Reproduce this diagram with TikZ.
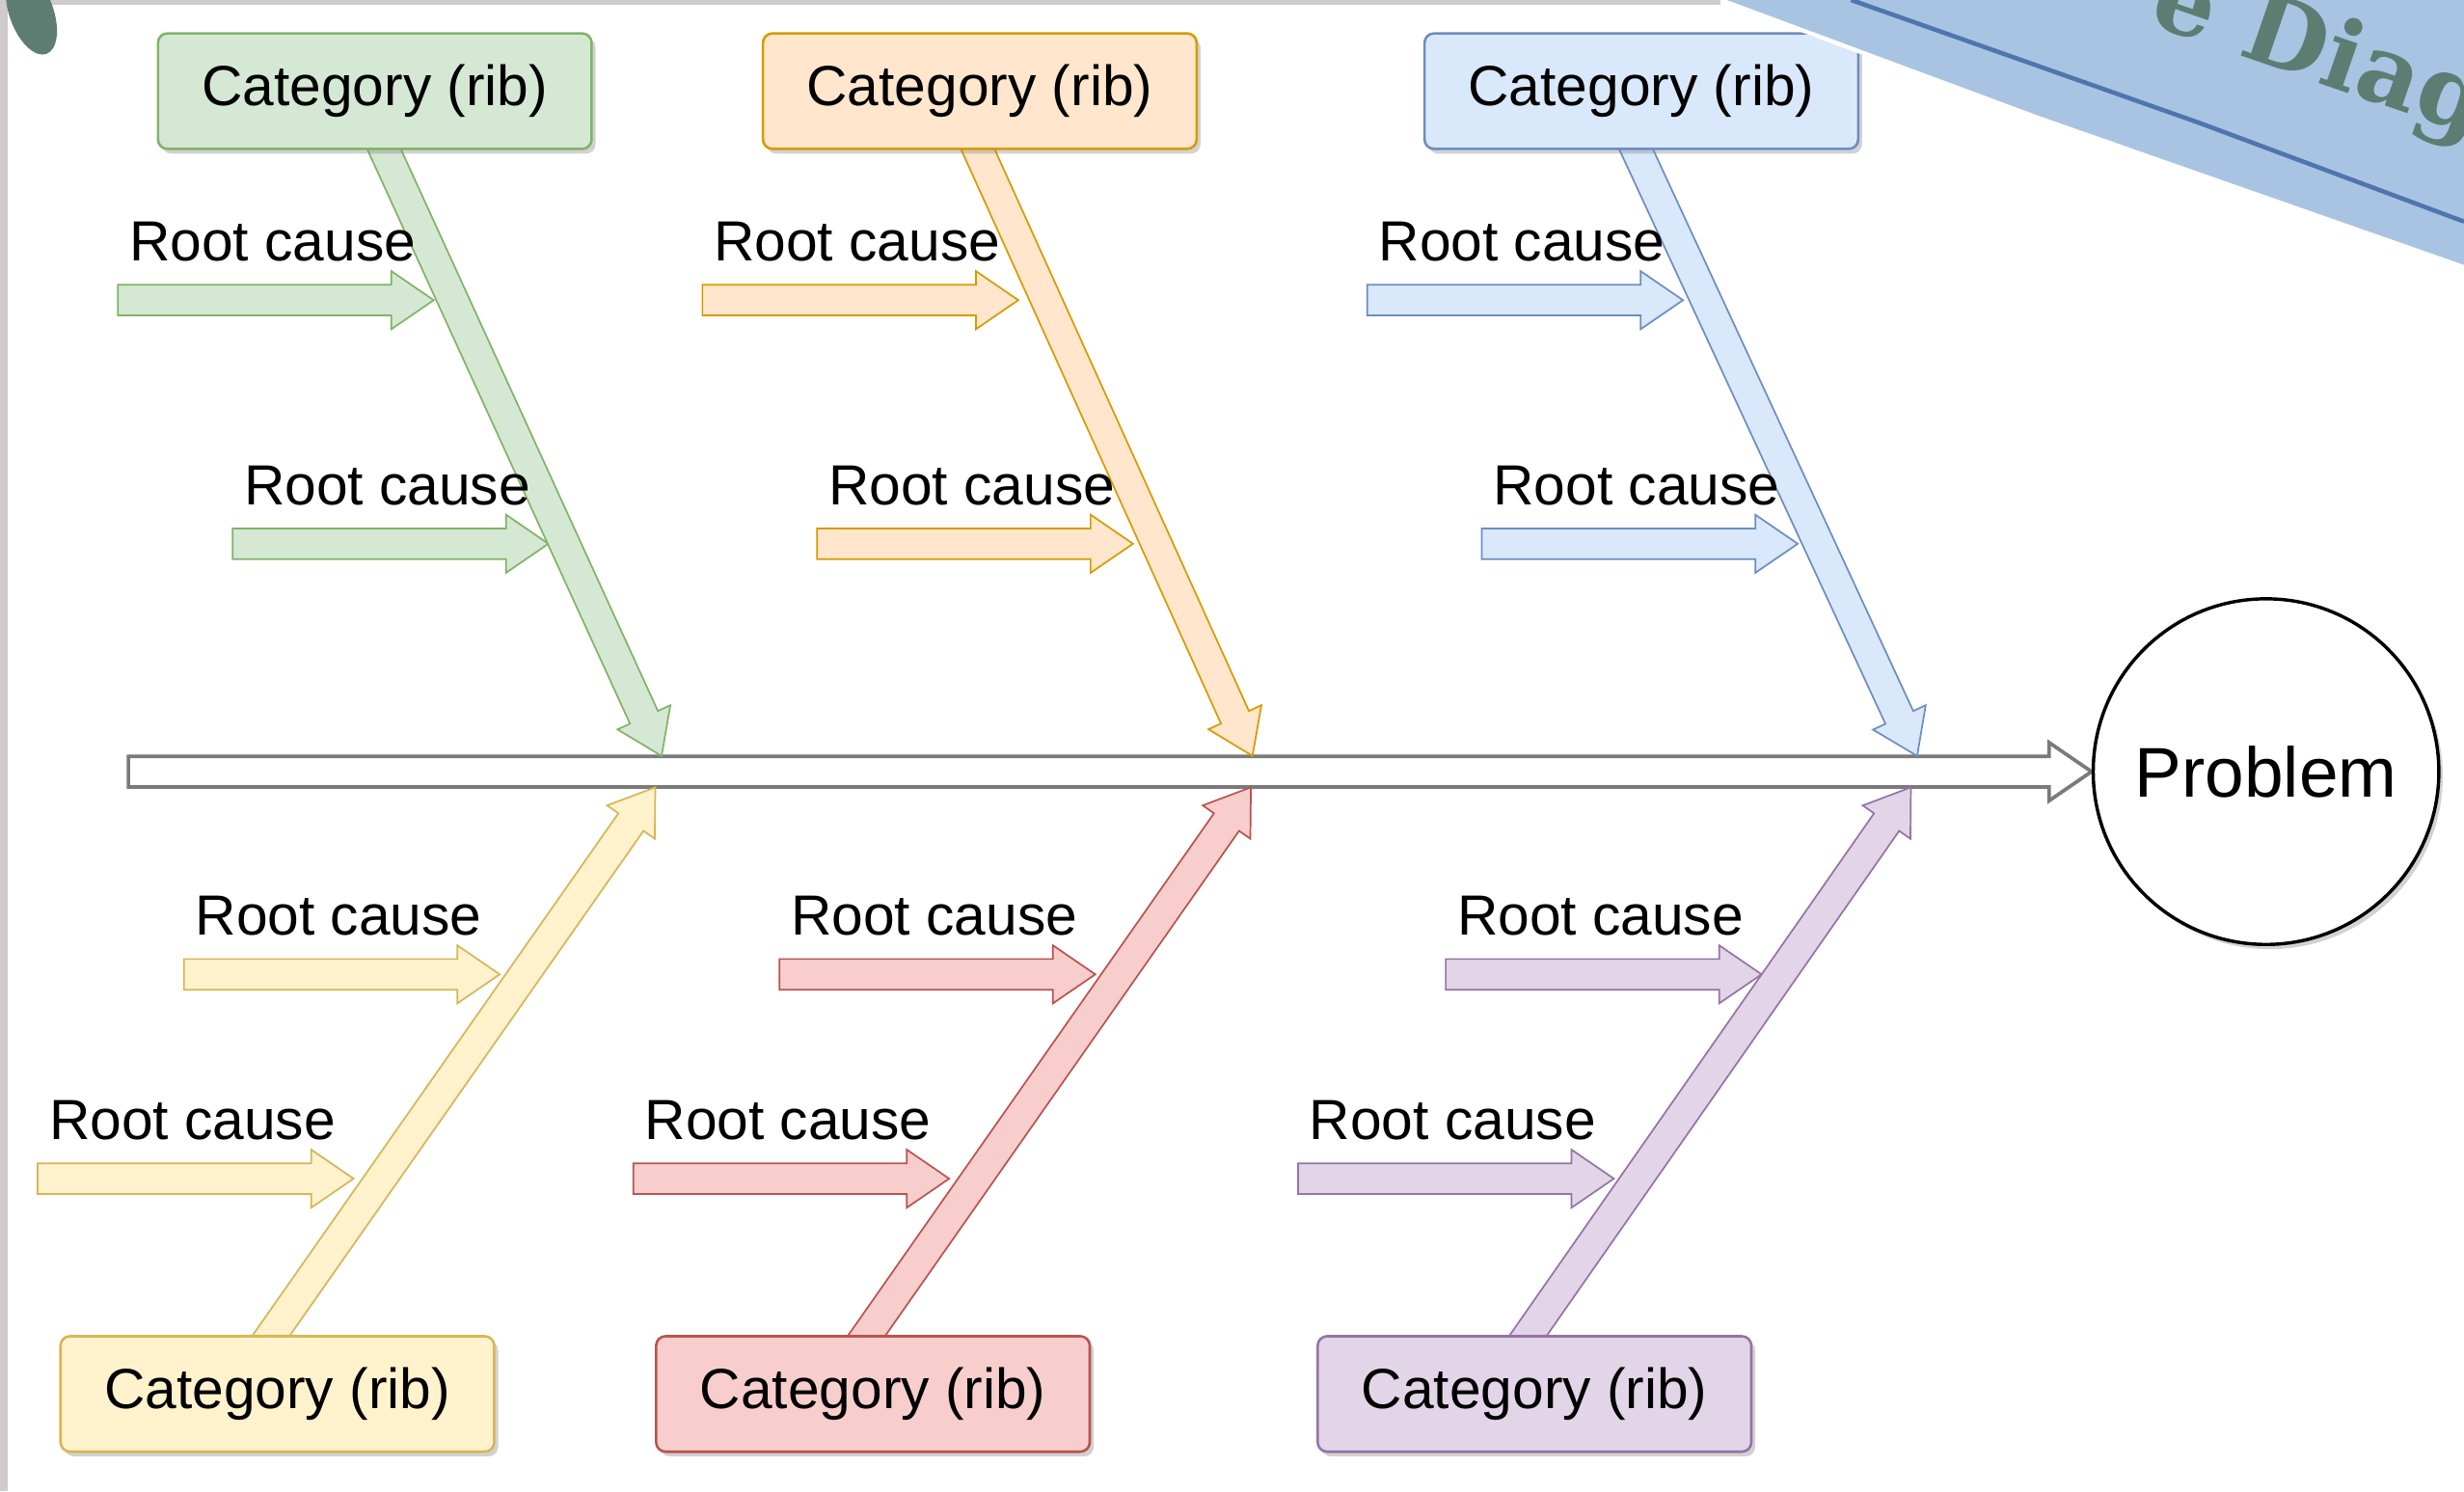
\documentclass[tikz,border=0pt]{standalone}
\usepackage{fontspec}
\setmainfont{Liberation Sans}
\newfontfamily\bannerfont{DejaVu Serif}
\usetikzlibrary{calc,shadows,backgrounds}
\definecolor{gfill}{HTML}{D5E8D4}\definecolor{gline}{HTML}{82B366}
\definecolor{ofill}{HTML}{FFE6CC}\definecolor{oline}{HTML}{D79B00}
\definecolor{bfill}{HTML}{DAE8FC}\definecolor{bline}{HTML}{6C8EBF}
\definecolor{yfill}{HTML}{FFF2CC}\definecolor{yline}{HTML}{D6B656}
\definecolor{rfill}{HTML}{F8CECC}\definecolor{rline}{HTML}{B85450}
\definecolor{pfill}{HTML}{E1D5E7}\definecolor{pline}{HTML}{9673A6}
\definecolor{spinegrey}{HTML}{7A7A7A}
\definecolor{framegrey}{HTML}{CFCACB}
\definecolor{blobteal}{HTML}{5E7D72}
\definecolor{ribbonblue}{HTML}{A9C4E2}
\definecolor{ribbonline}{HTML}{4E76AC}
\tikzset{
  cat/.style={draw,rounded corners=0.12cm,minimum width=5.52cm,minimum height=1.47cm,inner sep=0pt,line width=0.9pt,
    font=\fontsize{20.5}{24}\selectfont,drop shadow={shadow xshift=0.05cm,shadow yshift=-0.06cm,opacity=0.35}},
  head/.style={circle,draw,fill=white,line width=1.2pt,minimum size=4.4cm,inner sep=0pt,
    font=\fontsize{25.5}{30}\selectfont,drop shadow={shadow xshift=0.05cm,shadow yshift=-0.06cm,opacity=0.35}},
  rctext/.style={anchor=base west,inner sep=0pt,font=\fontsize{20.5}{24}\selectfont},
  bannertext/.style={anchor=base west,inner sep=0pt,rotate=-19,text=blobteal,font=\bannerfont\bfseries\fontsize{35}{40}\selectfont},
  fish/.style={line width=0.6pt,line join=miter}
}
% flat block arrow: style, tail, tip
\newcommand\flexarr[3]{%
  \path (#3) coordinate (fa-tip) ($(#3)!0.54cm!(#2)$) coordinate (fa-neck);
  \filldraw[fish,#1] ($(#2)!0.195cm!90:(fa-tip)$) -- ($(fa-neck)!0.195cm!90:(fa-tip)$)
    -- ($(fa-neck)!0.37cm!90:(fa-tip)$) -- (fa-tip) -- ($(fa-neck)!0.37cm!-90:(fa-tip)$)
    -- ($(fa-neck)!0.195cm!-90:(fa-tip)$) -- ($(#2)!0.195cm!-90:(fa-tip)$) -- cycle;}
\begin{document}
\begin{tikzpicture}[x=0.02cm,y=-0.02cm]
\useasboundingbox (0,0) rectangle (1568,949);
\node[head] (prob) at (1442,491) {Problem};
\node[cat,fill=gfill,draw=gline] (gcat) at (238.5,58) {Category (rib)};
\node[cat,fill=ofill,draw=oline] (ocat) at (623.5,58) {Category (rib)};
\node[cat,fill=bfill,draw=bline] (bcat) at (1044.5,58) {Category (rib)};
\node[cat,fill=yfill,draw=yline] (ycat) at (176.5,887) {Category (rib)};
\node[cat,fill=rfill,draw=rline] (rcat) at (555.5,887) {Category (rib)};
\node[cat,fill=pfill,draw=pline] (pcat) at (976.5,887) {Category (rib)};
\begin{pgfonlayer}{background}
  \fill[white] (0,0) rectangle (1568,949);
  \coordinate (tail) at (81.7,491);
  \flexarr{draw=spinegrey,fill=white,line width=1.3pt}{tail}{prob.west}
\end{pgfonlayer}
\foreach \c/\x/\y/\n in {g/75/191/1,g/148/346/2,o/447/191/1,o/520/346/2,b/870/191/1,b/943/346/2,
    y/117/620/1,y/24/750/2,r/496/620/1,r/403/750/2,p/920/620/1,p/826/750/2}{
  \coordinate (rs-\c\n) at (\x,\y);
  \coordinate (rt-\c\n) at (\x+201,\y);
  \node[rctext] (rc-\c\n) at (\x+7,\y-25) {Root cause};
  \begin{pgfonlayer}{background}
    \flexarr{fill=\c fill,draw=\c line}{rs-\c\n}{rt-\c\n}
  \end{pgfonlayer}
}
\begin{pgfonlayer}{background}
  \foreach \c/\dx/\tx/\ty in {g/-11/421/481,o/-18/797/481,b/-20.5/1220/481,y/-30/417/501,r/-30/796/501,p/-30/1216/501}{
    \coordinate (ribs-\c) at ([shift={(\dx,0)}]\c cat.center);
    \coordinate (ribt-\c) at (\tx,\ty);
    \flexarr{fill=\c fill,draw=\c line}{ribs-\c}{ribt-\c}
  }
\end{pgfonlayer}
\begin{scope}
  \clip (0,0) rectangle (1568,949);
  \fill[framegrey] (0,0) rectangle (5,949);
  \fill[framegrey] (0,0) rectangle (1095,3);
  \fill[blobteal,rotate around={20:(20,8)}] (20,8) ellipse (0.28cm and 0.56cm);
  \fill[ribbonblue] (1095,0) -- (1297,75) -- (1568,170) -- (1568,0) -- cycle;
  \draw[white,line width=1.5pt] (1095,0) -- (1297,75) -- (1568,170);
  \draw[ribbonline,line width=1.6pt] (1178,0) -- (1399,78) -- (1568,141);
  \node[bannertext] (banner) at (1366,15) {e Diag};
\end{scope}
\end{tikzpicture}
\end{document}
